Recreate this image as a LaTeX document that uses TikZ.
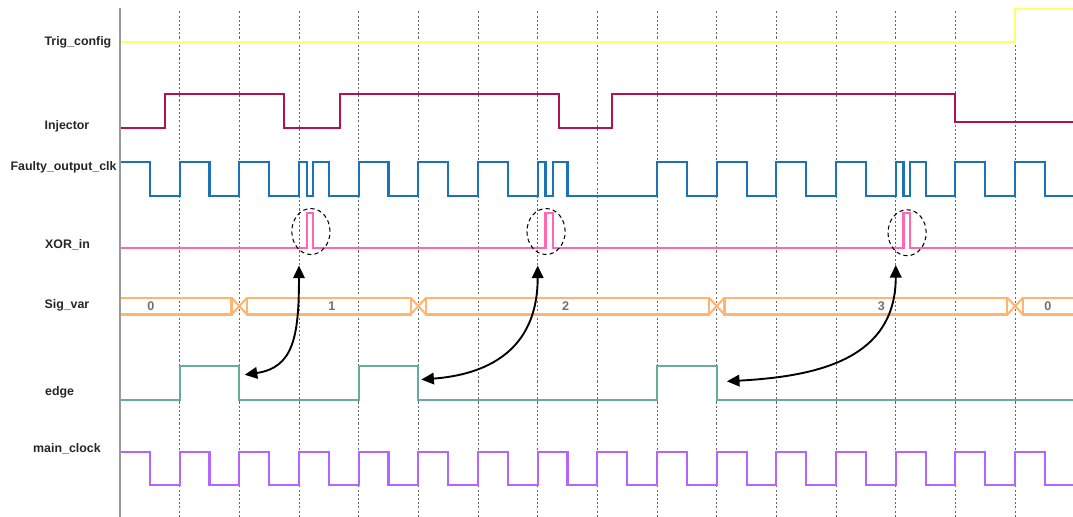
\documentclass[tikz,border=0pt]{standalone}
\usepackage{fontspec}
\setmainfont{Liberation Sans}
\usepackage{tikz}
\usetikzlibrary{arrows.meta,shapes.geometric}
\definecolor{TDTrig}{HTML}{FFFF66}
\definecolor{TDInject}{HTML}{B3124E}
\definecolor{TDFault}{HTML}{1B72B5}
\definecolor{TDXor}{HTML}{FF66B3}
\definecolor{TDSig}{HTML}{FFB570}
\definecolor{TDEdge}{HTML}{67AB9F}
\definecolor{TDClock}{HTML}{B266FF}
\definecolor{TDGrid}{HTML}{666666}
\definecolor{TDAxis}{HTML}{999999}
\definecolor{TDDigit}{HTML}{707070}
\begin{document}
\begin{tikzpicture}[x=1cm,y=1cm,
  wave/.style={line width=1pt,line join=miter},
  gridline/.style={TDGrid,line width=0.4pt,dash pattern=on 1pt off 1pt},
  signame/.style={anchor=west,inner sep=0pt,text=black!85,font=\fontsize{5.9}{7}\selectfont\bfseries},
  busvalue/.style={inner sep=0pt,text=TDDigit,font=\fontsize{6}{7}\selectfont\bfseries},
  glitchring/.style={ellipse,draw,line width=0.5pt,dash pattern=on 2pt off 1.5pt,
    minimum width=0.64cm,minimum height=0.77cm,inner sep=0pt},
  cause/.style={{Triangle[length=6pt,width=5.5pt]}-{Triangle[length=6pt,width=5.5pt]},line width=0.9pt}]
\path[use as bounding box] (-2.01,0) rectangle (15.97,8.66);
% clock period grid
\draw[gridline] (1,0) -- (1,8.5);
\draw[gridline] (2,0) -- (2,8.5);
\draw[gridline] (3,0) -- (3,8.5);
\draw[gridline] (4,0) -- (4,8.5);
\draw[gridline] (5,0) -- (5,8.5);
\draw[gridline] (6,0) -- (6,8.5);
\draw[gridline] (7,0) -- (7,8.5);
\draw[gridline] (8,0) -- (8,8.5);
\draw[gridline] (9,0) -- (9,8.5);
\draw[gridline] (10,0) -- (10,8.5);
\draw[gridline] (11,0) -- (11,8.5);
\draw[gridline] (12,0) -- (12,8.5);
\draw[gridline] (13,0) -- (13,8.5);
\draw[gridline] (14,0) -- (14,8.5);
\draw[gridline] (15,0) -- (15,8.5);
% signal names
\node[signame] (trig) at (-1.27,7.95) {Trig\_config};
\node[signame] (inj) at (-1.27,6.54) {Injector};
\node[signame] (fault) at (-1.84,5.85) {Faulty\_output\_clk};
\node[signame] (xor) at (-1.26,4.55) {XOR\_in};
\node[signame] (sigvar) at (-1.27,3.55) {Sig\_var};
\node[signame] (edge) at (-1.26,2.08) {edge};
\node[signame] (clk) at (-1.46,1.14) {main\_clock};
% waveforms
\draw[wave,TDTrig] (0,7.95) -| (15,8.51) -- (15.97,8.51);
\draw[wave,TDInject] (0,6.52) -| (0.75,7.08) -| (2.75,6.52) -| (3.68,7.08) -| (7.36,6.52)
  -| (8.25,7.08) -| (14,6.61) -- (15.97,6.61);
\draw[wave,TDFault] (0,5.95) -| (0.5,5.38) -| (1,5.95) -| (1.5,5.38) -| (2,5.95) -| (2.5,5.38)
  -| (3,5.95) -| (3.13,5.38) -| (3.24,5.95) -| (3.5,5.38) -| (4,5.95) -| (4.5,5.38)
  -| (5,5.95) -| (5.5,5.38) -| (6,5.95) -| (6.5,5.38) -| (7,5.95) -| (7.13,5.38)
  -| (7.25,5.95) -| (7.5,5.38) -| (9,5.95) -| (9.5,5.38) -| (10,5.95) -| (10.5,5.38)
  -| (11,5.95) -| (11.5,5.38) -| (12,5.95) -| (12.5,5.38) -| (13,5.95) -| (13.13,5.38)
  -| (13.24,5.95) -| (13.5,5.38) -| (14,5.95) -| (14.5,5.38) -| (15,5.95) -| (15.5,5.38)
  -- (15.97,5.38);
\draw[wave,TDXor] (0,4.51) -| (3.13,5.09) -| (3.24,4.51) -| (7.13,5.09) -| (7.25,4.51)
  -| (13.13,5.09) -| (13.24,4.51) -- (15.97,4.51);
% bus Sig_var
\draw[wave,TDSig] (0,3.67) -- (1.87,3.67) -- (1.87,3.39) -- (0,3.39);
\draw[wave,TDSig] (1.87,3.67) -- (2.13,3.39) (1.87,3.39) -- (2.13,3.67);
\draw[wave,TDSig] (2.13,3.67) rectangle (4.87,3.39);
\draw[wave,TDSig] (4.87,3.67) -- (5.13,3.39) (4.87,3.39) -- (5.13,3.67);
\draw[wave,TDSig] (5.13,3.67) rectangle (9.87,3.39);
\draw[wave,TDSig] (9.87,3.67) -- (10.13,3.39) (9.87,3.39) -- (10.13,3.67);
\draw[wave,TDSig] (10.13,3.67) rectangle (14.87,3.39);
\draw[wave,TDSig] (14.87,3.67) -- (15.13,3.39) (14.87,3.39) -- (15.13,3.67);
\draw[wave,TDSig] (15.97,3.67) -- (15.13,3.67) -- (15.13,3.39) -- (15.97,3.39);
\node[busvalue] (v0) at (0.52,3.53) {0};
\node[busvalue] (v1) at (3.55,3.53) {1};
\node[busvalue] (v2) at (7.47,3.53) {2};
\node[busvalue] (v3) at (12.76,3.53) {3};
\node[busvalue] (v4) at (15.55,3.53) {0};
\draw[wave,TDEdge] (0,1.96) -| (1,2.52) -| (2,1.96) -| (4,2.52) -| (5,1.96) -| (9,2.52)
  -| (10,1.96) -- (15.97,1.96);
\draw[wave,TDClock] (0,1.09) -| (0.5,0.53) -| (1,1.09) -| (1.5,0.53) -| (2,1.09) -| (2.5,0.53)
  -| (3,1.09) -| (3.5,0.53) -| (4,1.09) -| (4.5,0.53) -| (5,1.09) -| (5.5,0.53)
  -| (6,1.09) -| (6.5,0.53) -| (7,1.09) -| (7.5,0.53) -| (8,1.09) -| (8.5,0.53)
  -| (9,1.09) -| (9.5,0.53) -| (10,1.09) -| (10.5,0.53) -| (11,1.09) -| (11.5,0.53)
  -| (12,1.09) -| (12.5,0.53) -| (13,1.09) -| (13.5,0.53) -| (14,1.09) -| (14.5,0.53)
  -| (15,1.09) -| (15.5,0.53) -- (15.97,0.53);
% time axis
\draw[TDAxis,line width=1.2pt] (0,0) -- (0,8.52);
% glitches and their edges
\node[glitchring] (g1) at (3.20,4.78) {};
\node[glitchring] (g2) at (7.14,4.78) {};
\node[glitchring] (g3) at (13.19,4.76) {};
\coordinate (t1) at (3.0,4.21);
\coordinate (t2) at (7.0,4.21);
\coordinate (t3) at (13.0,4.22);
\coordinate (e1) at (2.09,2.38);
\coordinate (e2) at (5.05,2.30);
\coordinate (e3) at (10.17,2.27);
\draw[cause] (t1) .. controls (3.0,3.0) and (2.9,2.5) .. (e1);
\draw[cause] (t2) .. controls (7.0,2.75) and (6.1,2.38) .. (e2);
\draw[cause] (t3) .. controls (13.0,2.6) and (11.6,2.35) .. (e3);
\end{tikzpicture}
\end{document}
